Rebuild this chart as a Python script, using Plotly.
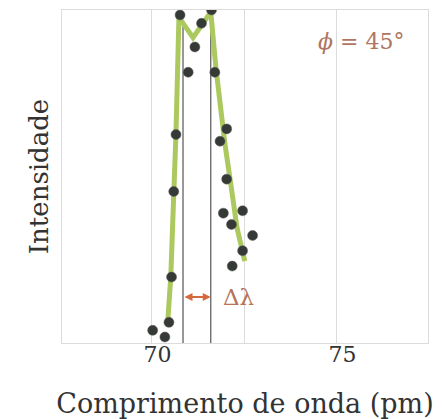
import plotly.graph_objects as go

# measured points (wavelength pm, relative intensity)
pts_x = [70.02, 70.35, 70.46, 70.53, 70.59, 70.65, 70.76, 70.98, 71.16, 71.34, 71.61,
         71.70, 71.84, 72.02, 72.02, 71.93, 72.45, 72.15, 72.72, 72.45, 72.17]
pts_y = [0.038, 0.018, 0.062, 0.198, 0.455, 0.626, 0.985, 0.813, 0.889, 0.96, 1.0,
         0.813, 0.606, 0.643, 0.492, 0.39, 0.397, 0.356, 0.323, 0.277, 0.231]

# fitted curve
fit_x = [70.43, 70.51, 70.65, 70.73, 71.11, 71.59, 71.73, 71.97, 72.16, 72.30, 72.51]
fit_y = [0.068, 0.2, 0.631, 0.978, 0.917, 0.994, 0.825, 0.6, 0.455, 0.345, 0.246]

# peak markers
peak_x = [70.84, 71.59]
peak_top = [0.97, 1.0]

tick_vals = [70, 72.5, 75]
tick_text = ["\u200270", "", "\u200275"]

FONT = "DejaVu Serif"

fig = go.Figure()

for px, pt in zip(peak_x, peak_top):
    fig.add_trace(go.Scatter(x=[px, px], y=[0, pt], mode="lines",
                             line=dict(color="#555555", width=1.2),
                             hoverinfo="skip", showlegend=False))

fig.add_trace(go.Scatter(x=fit_x, y=fit_y, mode="lines",
                         line=dict(color="#abc95e", width=5),
                         showlegend=False))

fig.add_trace(go.Scatter(x=pts_x, y=pts_y, mode="markers",
                         marker=dict(color="#363a36", size=10,
                                     line=dict(color="#5a5a5a", width=0.5)),
                         showlegend=False))

# delta lambda arrow
fig.add_annotation(x=peak_x[1], y=0.138, ax=peak_x[0], ay=0.138,
                   xref="x", yref="y", axref="x", ayref="y",
                   showarrow=True, arrowhead=2, arrowside="end+start",
                   arrowsize=0.8, arrowwidth=2, arrowcolor="#d5693e", text="")
fig.add_annotation(x=71.87, y=0.138, xref="x", yref="y", text="Δλ",
                   showarrow=False, xanchor="left",
                   font=dict(family=FONT, size=23, color="#b8735a"))
fig.add_annotation(x=75.64, y=0.905, xref="x", yref="y", text="<i>ϕ</i> = 45°",
                   showarrow=False,
                   font=dict(family=FONT, size=22, color="#b07562"))

fig.update_xaxes(range=[67.57, 77.46], tickvals=tick_vals, ticktext=tick_text,
                 showgrid=True, gridcolor="#dcdcdc", gridwidth=1,
                 showline=True, linecolor="#dcdcdc", mirror=True, zeroline=False,
                 ticks="", ticklabelstandoff=-8,
                 tickfont=dict(family=FONT, size=22, color="#333333"),
                 title=dict(text="Comprimento de onda (pm)", standoff=30,
                            font=dict(family=FONT, size=27, color="#333333")))
fig.update_yaxes(range=[0, 1.0], showticklabels=False, showgrid=False,
                 showline=True, linecolor="#dcdcdc", mirror=True, zeroline=False,
                 ticks="",
                 title=dict(text="Intensidade", standoff=4,
                            font=dict(family=FONT, size=26, color="#333333")))

fig.update_layout(width=434, height=411, margin=dict(l=54, r=14, t=2, b=76),
                  plot_bgcolor="white", paper_bgcolor="white")

fig.write_html("out.html")
